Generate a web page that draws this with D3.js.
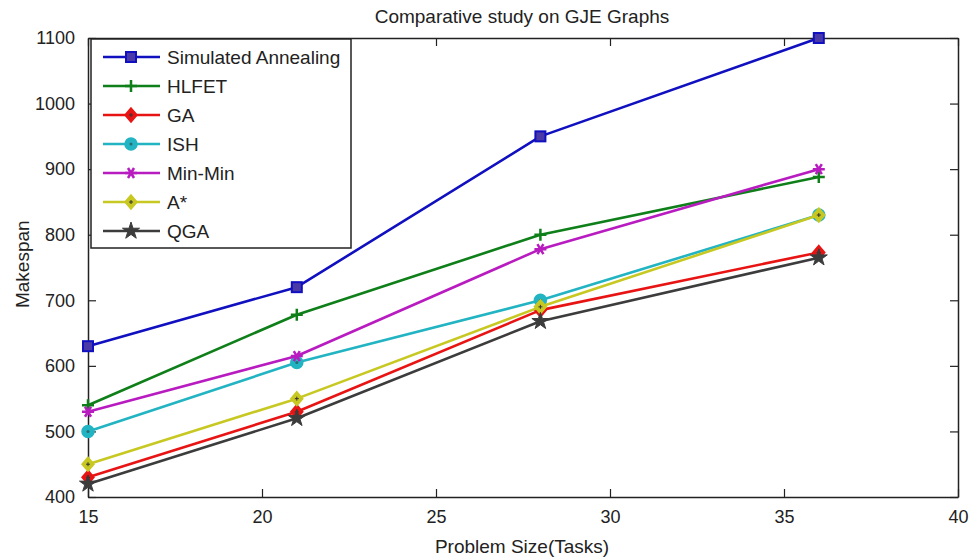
<!DOCTYPE html>
<html lang="en">
<head>
<meta charset="UTF-8">
<title>Comparative study on GJE Graphs</title>
<script src="https://d3js.org/d3.v7.min.js"></script>
<style>
  body { margin: 0; background: #fff; }
  text { font-family: "Liberation Sans", Arial, sans-serif; fill: #222; }
</style>
</head>
<body>
<div id="chart"></div>
<script>
// data
const tasks = [15, 21, 28, 36];
const seriesNames = ["Simulated Annealing", "HLFET", "GA", "ISH", "Min-Min", "A*", "QGA"];
const saValues = [630, 720, 950, 1100];
const hlfetValues = [540, 678, 800, 888];
const gaValues = [430, 530, 685, 773];
const ishValues = [500, 605, 700, 830];
const minminValues = [530, 615, 778, 900];
const astarValues = [450, 550, 690, 830];
const qgaValues = [420, 520, 668, 765];
const xTicks = [15, 20, 25, 30, 35, 40];
const yTicks = [400, 500, 600, 700, 800, 900, 1000, 1100];

const series = [
  { name: seriesNames[0], values: saValues, color: "#1010c0", marker: "square" },
  { name: seriesNames[1], values: hlfetValues, color: "#0f7f1a", marker: "plus" },
  { name: seriesNames[2], values: gaValues, color: "#e81414", marker: "diamond" },
  { name: seriesNames[3], values: ishValues, color: "#22b4c2", marker: "circle" },
  { name: seriesNames[4], values: minminValues, color: "#b81cc0", marker: "asterisk" },
  { name: seriesNames[5], values: astarValues, color: "#c8c822", marker: "diamond" },
  { name: seriesNames[6], values: qgaValues, color: "#3c3c3c", marker: "star" }
];

const width = 973, height = 559;
const margin = { top: 38, right: 15, bottom: 62, left: 88 };

const svg = d3.select("#chart").append("svg")
  .attr("width", width).attr("height", height);

const x = d3.scaleLinear().domain([15, 40]).range([margin.left, width - margin.right]);
const y = d3.scaleLinear().domain([400, 1100]).range([height - margin.bottom, margin.top]);

// axes (ticks inward, box around plot)
const axisStyle = g => {
  g.selectAll("path.domain").attr("stroke", "#222").attr("stroke-width", 1.5);
  g.selectAll(".tick line").attr("stroke", "#222").attr("stroke-width", 1.2);
  g.selectAll(".tick text").attr("font-size", 18).attr("fill", "#222")
    .attr("font-family", "Liberation Sans, Arial, sans-serif");
};

svg.append("g").attr("transform", `translate(0,${y(400)})`)
  .call(d3.axisBottom(x).tickValues(xTicks).tickSize(-8).tickSizeOuter(0).tickPadding(13))
  .call(axisStyle);
svg.append("g").attr("transform", `translate(0,${y(1100)})`)
  .call(d3.axisTop(x).tickValues(xTicks).tickSize(-8).tickSizeOuter(0).tickFormat(""))
  .call(axisStyle);
svg.append("g").attr("transform", `translate(${x(15)},0)`)
  .call(d3.axisLeft(y).tickValues(yTicks).tickSize(-8).tickSizeOuter(0).tickPadding(13).tickFormat(d3.format("d")))
  .call(axisStyle);
svg.append("g").attr("transform", `translate(${x(40)},0)`)
  .call(d3.axisRight(y).tickValues(yTicks).tickSize(-8).tickSizeOuter(0).tickFormat(""))
  .call(axisStyle);

// markers
function drawMarker(g, type, color, cx, cy) {
  if (type === "square") {
    g.append("rect").attr("x", cx - 5).attr("y", cy - 5).attr("width", 10).attr("height", 10)
      .attr("fill", "#4a3aa8").attr("stroke", color).attr("stroke-width", 2);
  } else if (type === "plus") {
    g.append("path").attr("d", `M${cx - 6},${cy}H${cx + 6}M${cx},${cy - 6}V${cy + 6}`)
      .attr("stroke", color).attr("stroke-width", 2.5);
  } else if (type === "diamond") {
    g.append("path").attr("d", `M${cx},${cy - 7}L${cx + 6},${cy}L${cx},${cy + 7}L${cx - 6},${cy}Z`)
      .attr("fill", color).attr("stroke", color).attr("stroke-width", 1.5);
    g.append("path").attr("d", `M${cx - 2},${cy}H${cx + 2}M${cx},${cy - 2}V${cy + 2}`)
      .attr("stroke", "#333").attr("stroke-width", 1);
  } else if (type === "circle") {
    g.append("circle").attr("cx", cx).attr("cy", cy).attr("r", 6)
      .attr("fill", color).attr("stroke", color).attr("stroke-width", 1.5);
    g.append("circle").attr("cx", cx).attr("cy", cy).attr("r", 1.5).attr("fill", "#2a6a70");
  } else if (type === "asterisk") {
    g.append("path")
      .attr("d", `M${cx - 6},${cy}H${cx + 6}M${cx - 3},${cy - 5}L${cx + 3},${cy + 5}M${cx + 3},${cy - 5}L${cx - 3},${cy + 5}`)
      .attr("stroke", color).attr("stroke-width", 2.5);
  } else if (type === "star") {
    g.append("path").attr("d", d3.symbol(d3.symbolStar, 90)())
      .attr("transform", `translate(${cx},${cy})`)
      .attr("fill", color).attr("stroke", color).attr("stroke-width", 1);
  }
}

const line = d3.line().x((d, i) => x(tasks[i])).y(d => y(d));

series.forEach(s => {
  const g = svg.append("g");
  g.append("path").datum(s.values).attr("d", line)
    .attr("fill", "none").attr("stroke", s.color).attr("stroke-width", 2.6)
    .attr("stroke-linejoin", "round");
  s.values.forEach((v, i) => drawMarker(g, s.marker, s.color, x(tasks[i]), y(v)));
});

// legend
const legend = svg.append("g");
legend.append("rect").attr("x", 91).attr("y", 39).attr("width", 260).attr("height", 209)
  .attr("fill", "#fff").attr("stroke", "#222").attr("stroke-width", 1.5);
series.forEach((s, i) => {
  const ly = 57 + i * 29;
  legend.append("line").attr("x1", 103).attr("x2", 160).attr("y1", ly).attr("y2", ly)
    .attr("stroke", s.color).attr("stroke-width", 2.6);
  drawMarker(legend, s.marker, s.color, 131, ly);
  legend.append("text").attr("x", 167).attr("y", ly + 7).attr("font-size", 19).text(s.name);
});

// titles
svg.append("text").attr("x", 522).attr("y", 23).attr("text-anchor", "middle")
  .attr("font-size", 19).text("Comparative study on GJE Graphs");
svg.append("text").attr("x", 522).attr("y", 553).attr("text-anchor", "middle")
  .attr("font-size", 19).text("Problem Size(Tasks)");
svg.append("text").attr("transform", `translate(29,${y(755)}) rotate(-90)`)
  .attr("text-anchor", "middle").attr("font-size", 19).text("Makespan");
</script>
</body>
</html>
